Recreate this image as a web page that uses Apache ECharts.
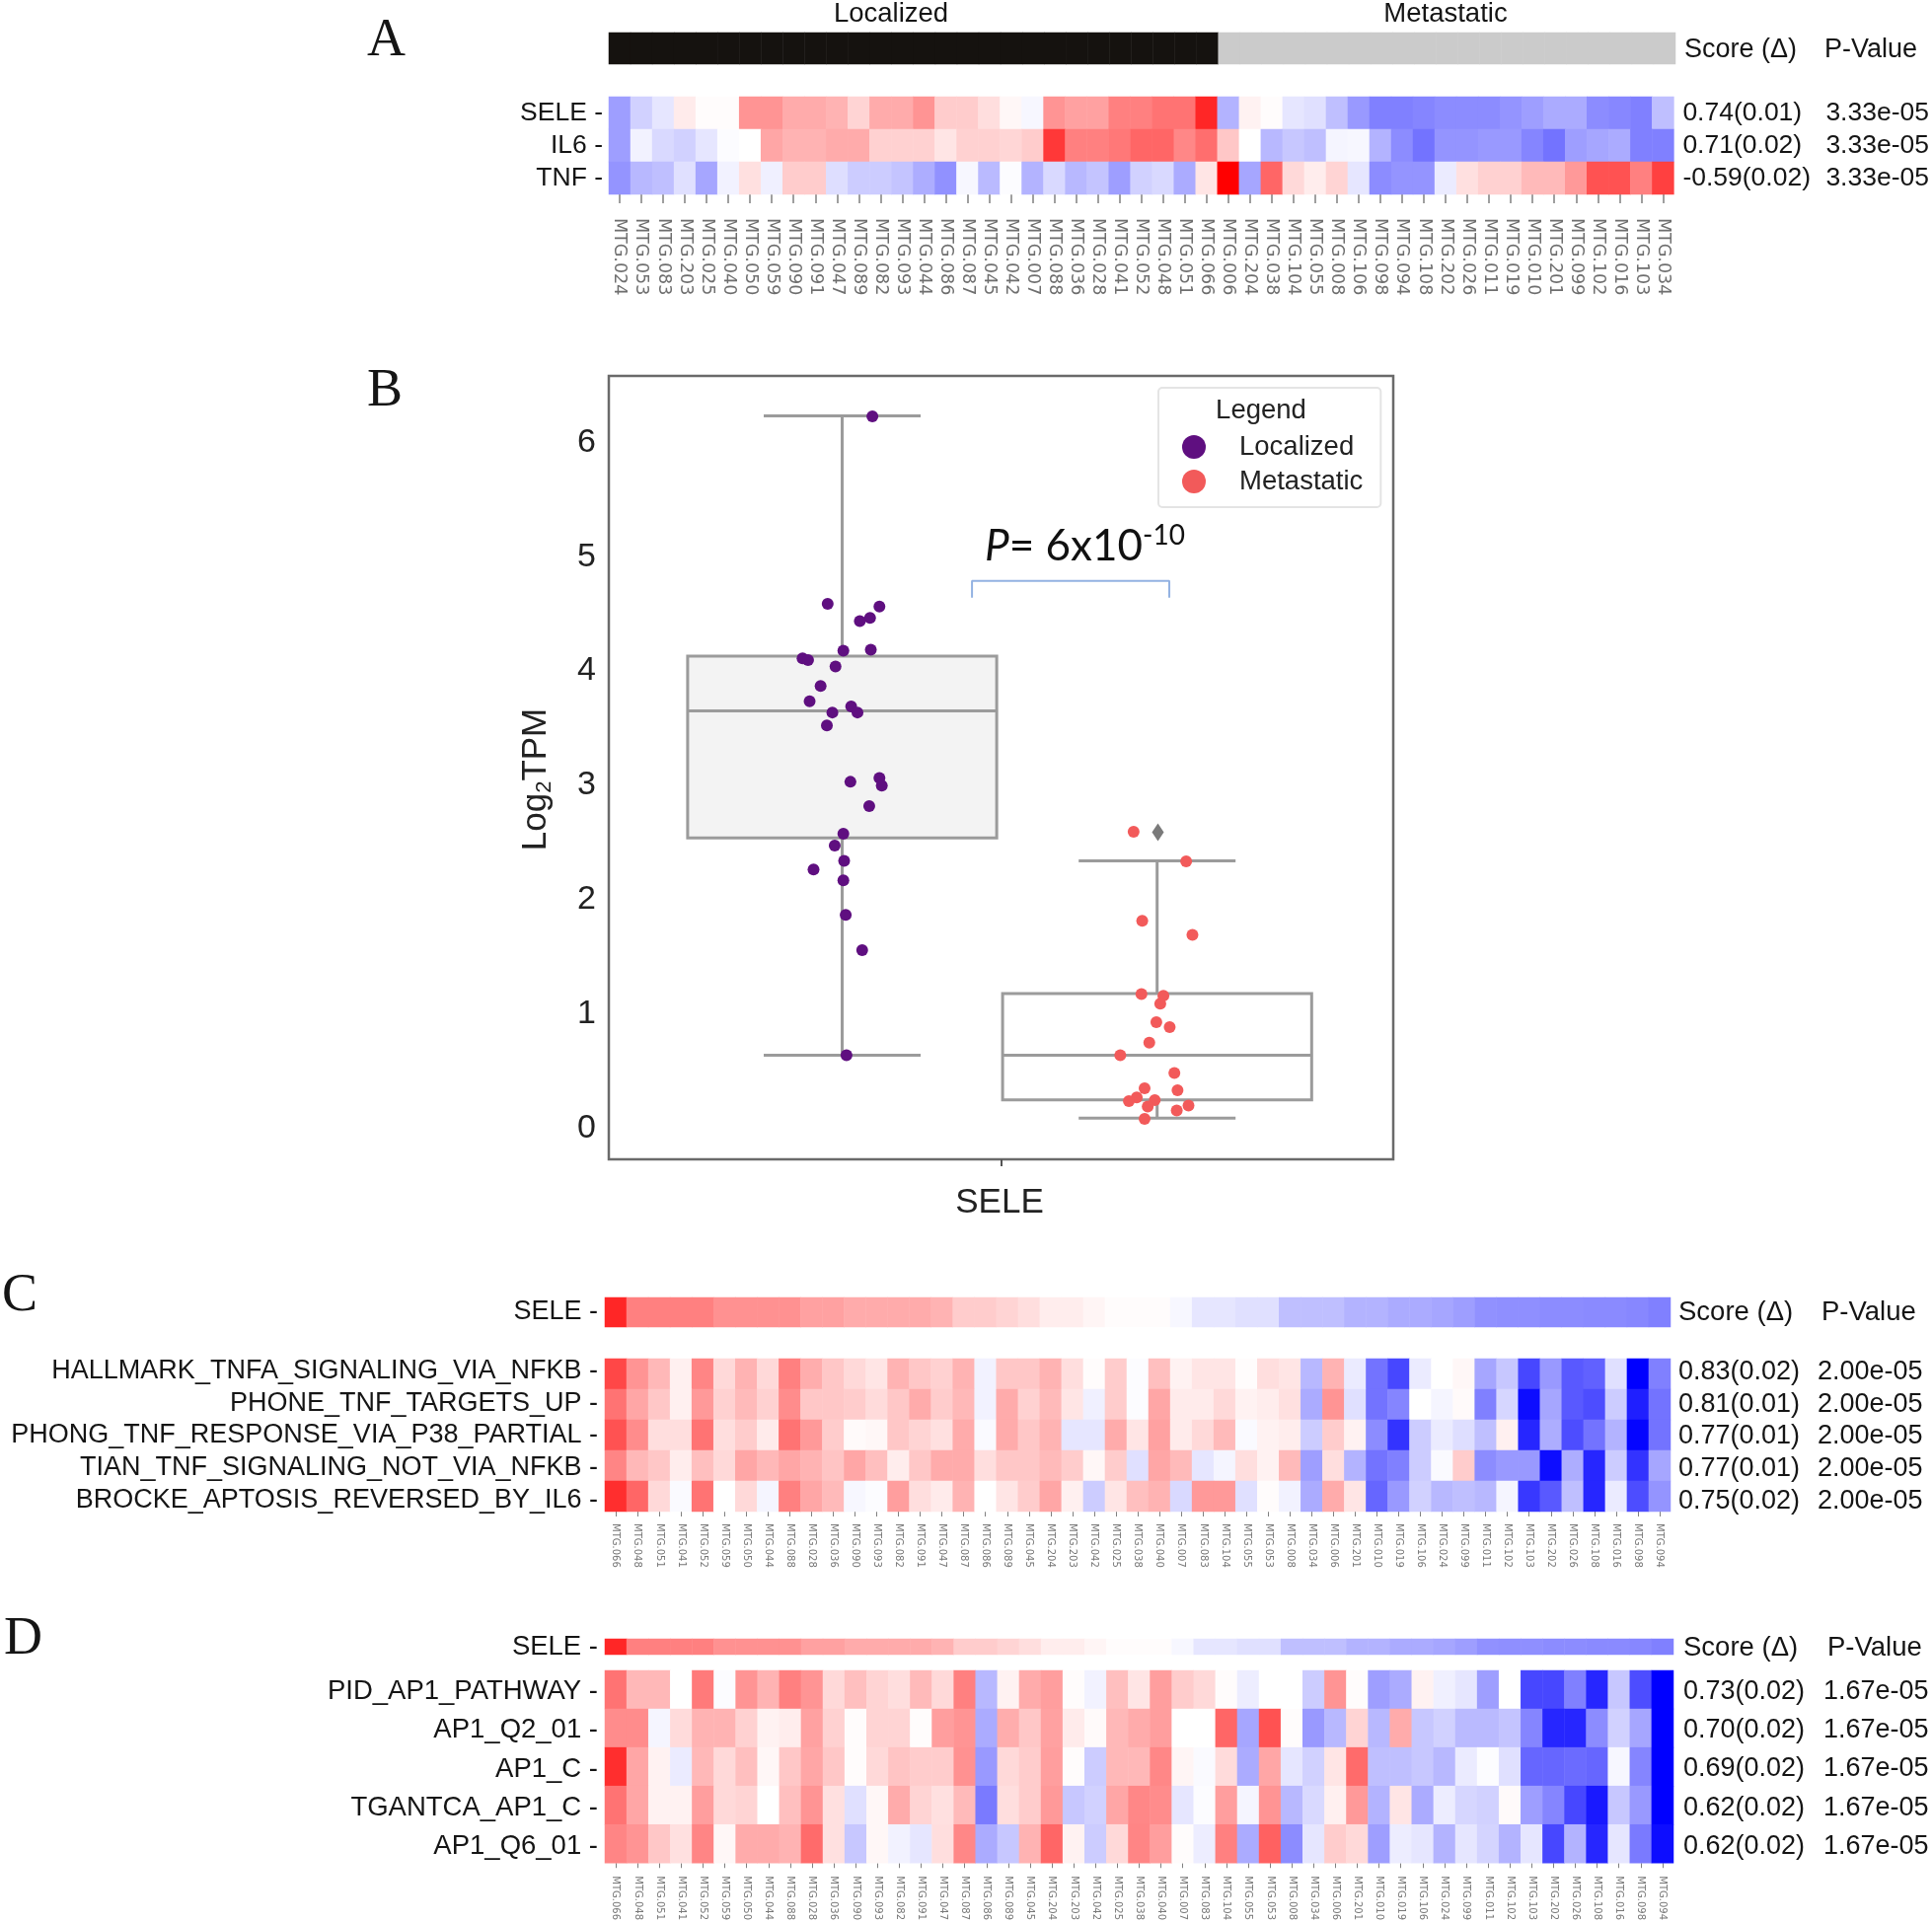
<!DOCTYPE html>
<html>
<head>
<meta charset="utf-8">
<title>SELE expression panels</title>
<script src="https://cdn.jsdelivr.net/npm/echarts@6/dist/echarts.min.js"></script>
<style>
  html, body { margin: 0; padding: 0; background: #fff; }
  #chart { width: 1958px; height: 1949px; }
</style>
</head>
<body>
<div id="chart"></div>
<script>
// panel A samples, localized first then metastatic
const samplesA = ['024','053','083','203','025','040','050','059','090','091','047','089','082','093','044','086','087','045','042','007','088','036','028','041','052','048','051','066','006','204','038','104','055','008','106','098','094','108','202','026','011','019','010','201','099','102','016','103','034'].map(s => 'MTG.' + s);
// panels C and D samples, sorted by SELE
const samplesCD = ['066','048','051','041','052','059','050','044','088','028','036','090','093','082','091','047','087','086','089','045','204','203','042','025','038','040','007','083','104','055','053','008','034','006','201','010','019','106','024','099','011','102','103','202','026','108','016','098','094'].map(s => 'MTG.' + s);

const statusA = [0,0,0,0,0,0,0,0,0,0,0,0,0,0,0,0,0,0,0,0,0,0,0,0,0,0,0,0,1,1,1,1,1,1,1,1,1,1,1,1,1,1,1,1,1,1,1,1,1];
const seleA = [-.38,-.18,-.1,.08,.01,.01,.42,.42,.33,.33,.3,.17,.33,.33,.42,.2,.2,.13,.03,-.03,.42,.37,.37,.5,.5,.55,.55,.85,-.3,.05,.01,-.1,-.12,-.25,-.4,-.5,-.5,-.48,-.45,-.45,-.45,-.42,-.38,-.33,-.33,-.45,-.47,-.5,-.25];
const il6A = [-.38,-.05,-.15,-.18,-.1,-.01,0,.35,.3,.3,.33,.33,.18,.18,.18,.1,.18,.18,.16,.2,.78,.5,.5,.53,.6,.6,.47,.57,.22,0,-.28,-.22,-.25,-.04,-.03,-.3,-.45,-.55,-.42,-.42,-.4,-.4,-.48,-.55,-.38,-.35,-.33,-.5,-.5];
const tnfA = [-.42,-.28,-.25,-.12,-.35,-.05,.12,-.06,.2,.2,-.13,-.2,-.2,-.23,-.32,-.43,-.03,-.27,-.01,-.3,-.15,-.28,-.23,-.38,-.18,-.15,-.33,.1,1,-.35,.6,.15,.07,.17,-.1,-.45,-.42,-.42,-.08,.12,.18,.18,.27,.27,.4,.68,.68,.5,.75];

const seleSorted = [.85,.5,.5,.5,.5,.43,.43,.43,.43,.37,.37,.33,.33,.33,.33,.3,.2,.2,.17,.13,.07,.07,.04,.01,.01,.01,-.03,-.1,-.1,-.12,-.12,-.25,-.25,-.25,-.3,-.3,-.33,-.33,-.35,-.38,-.43,-.44,-.44,-.45,-.45,-.46,-.46,-.47,-.5];

const hallmark = [.72,.42,.28,.06,.48,.15,.3,.15,.5,.32,.22,.15,.1,.3,.22,.18,.3,-.05,.22,.22,.3,.13,.01,.2,-.01,.25,.05,.1,.1,.01,.13,.1,-.28,.3,-.08,-.55,-.72,-.08,0,.03,-.35,-.22,-.72,-.4,-.65,-.62,-.12,-1,-.5];
const phoneTnf = [.55,.35,.22,.06,.4,.18,.27,.18,.45,.22,.22,.2,.14,.22,.33,.2,.28,-.05,.33,.18,.27,.1,-.06,.2,-.01,.35,.08,.08,.15,.05,.07,.12,-.33,.42,-.12,-.55,-.48,0,-.04,.02,-.5,-.16,-.95,-.35,-.65,-.7,-.2,-.88,-.55];
const phongTnf = [.68,.45,.13,.13,.55,.13,.2,.08,.55,.4,.2,.02,.03,.22,.17,.12,.33,-.02,.33,.22,.3,-.1,-.1,.33,.1,.37,.08,.15,.27,-.02,.05,.07,-.2,.2,.05,-.45,-.8,-.2,-.08,-.13,-.25,.06,-.85,-.32,-.7,-.55,-.3,-.98,-.55];
const tianTnf = [.48,.28,.22,.07,.25,.15,.35,.28,.35,.3,.23,.35,.25,.07,.22,.33,.33,.13,.22,.22,.27,.2,.03,.2,-.12,.35,.27,-.1,-.04,.13,.05,.27,-.38,.13,-.3,-.55,-.5,-.2,-.02,.2,-.45,-.4,-.4,-.95,-.32,-.85,-.2,-.8,-.35];
const brockeApt = [.82,.6,.15,-.02,.55,0,.15,-.04,.5,.35,.27,-.03,-.01,.38,.13,.08,.3,0,.1,.2,.35,.06,-.2,.1,.25,.3,-.15,.4,.4,-.12,.01,-.05,-.33,.33,.1,-.6,-.4,-.18,-.28,-.25,-.28,-.04,-.78,-.65,-.25,-.85,-.08,-.7,-.42];

const pidAp1 = [.55,.28,.28,0,.52,-.01,.42,.3,.5,.42,.15,.25,.17,.13,.27,.15,.5,-.28,.05,.33,.38,.01,-.05,.25,.1,.38,.2,.15,.01,-.07,0,0,-.2,.42,.01,-.38,-.33,.05,-.06,-.1,-.38,0,-.72,-.72,-.5,-.85,-.22,-.7,-1];
const ap1Q2 = [.45,.45,-.04,.14,.3,.3,.18,.05,.07,.37,.18,.01,.17,.17,.01,.38,.42,-.33,.32,.22,.37,.08,.02,.28,.33,.38,0,0,.6,-.35,.68,.01,-.4,-.28,.17,-.28,.33,-.22,-.18,-.27,-.27,-.23,-.48,-.85,-.85,-.45,-.18,-.35,-1];
const ap1C = [.82,.35,.05,-.08,.28,.15,.25,.03,.22,.35,.22,.01,.15,.23,.2,.2,.43,-.4,.15,.2,.38,.01,-.2,.28,.28,.47,.04,-.02,.14,-.33,.35,-.1,-.18,.1,.58,-.25,-.25,-.22,-.28,-.08,-.01,-.12,-.6,-.6,-.58,-.6,-.03,-.48,-1];
const tgantca = [.55,.35,.05,.05,.38,.15,.17,0,.25,.42,.12,-.12,.03,.33,.17,.12,.27,-.52,.13,.2,.4,-.22,-.18,.35,.47,.45,-.1,-.01,.38,-.04,.42,-.28,-.15,.06,.4,-.3,.1,-.33,-.07,-.16,-.18,.02,-.38,-.48,-.72,-.9,-.22,-.4,-1];
const ap1Q6 = [.48,.42,.22,.12,.48,.03,.33,.33,.3,.58,.12,-.22,.03,-.05,-.1,.13,.47,-.33,-.22,.3,.6,.05,-.2,.15,.48,.38,.01,-.07,.5,-.33,.62,-.45,-.1,.2,.15,-.38,-.07,-.1,-.3,-.1,-.17,-.3,-.1,-.72,-.3,-.85,-.1,-.52,-.95];

const rowsA = ['SELE','IL6','TNF'];
const rowsC = ['HALLMARK_TNFA_SIGNALING_VIA_NFKB','PHONE_TNF_TARGETS_UP','PHONG_TNF_RESPONSE_VIA_P38_PARTIAL','TIAN_TNF_SIGNALING_NOT_VIA_NFKB','BROCKE_APTOSIS_REVERSED_BY_IL6'];
const rowsD = ['PID_AP1_PATHWAY','AP1_Q2_01','AP1_C','TGANTCA_AP1_C','AP1_Q6_01'];

const scoresA = ['0.74(0.01)','0.71(0.02)','-0.59(0.02)'];
const pvalsA = ['3.33e-05','3.33e-05','3.33e-05'];
const scoresC = ['0.83(0.02)','0.81(0.01)','0.77(0.01)','0.77(0.01)','0.75(0.02)'];
const pvalsC = ['2.00e-05','2.00e-05','2.00e-05','2.00e-05','2.00e-05'];
const scoresD = ['0.73(0.02)','0.70(0.02)','0.69(0.02)','0.62(0.02)','0.62(0.02)'];
const pvalsD = ['1.67e-05','1.67e-05','1.67e-05','1.67e-05','1.67e-05'];

// panel B: [x, low whisker, q1, median, q3, high whisker]
const boxLocalized = [-.2025,.64,2.54,3.65,4.13,6.23];
const boxMetastatic = [.199,.09,.25,.64,1.18,2.34];
const outlierMetastatic = [[.2,2.59]];
const pointsLocalized = [[-.164,6.226],[-.221,4.588],[-.155,4.564],[-.167,4.465],[-.18,4.437],[-.201,4.177],[-.166,4.186],[-.253,4.11],[-.246,4.096],[-.211,4.04],[-.23,3.869],[-.244,3.736],[-.215,3.637],[-.191,3.689],[-.183,3.637],[-.222,3.524],[-.155,3.065],[-.152,2.998],[-.192,3.031],[-.168,2.818],[-.201,2.577],[-.212,2.473],[-.2,2.34],[-.239,2.265],[-.201,2.17],[-.198,1.867],[-.177,1.559],[-.197,.641]];
const pointsMetastatic = [[.169,2.595],[.236,2.336],[.18,1.815],[.244,1.692],[.179,1.176],[.207,1.161],[.203,1.091],[.198,.93],[.215,.887],[.189,.75],[.152,.641],[.221,.485],[.183,.352],[.225,.333],[.173,.272],[.163,.239],[.196,.248],[.187,.192],[.239,.201],[.224,.158],[.183,.083]];
const bracketLine = [[-.037,4.64],[-.037,4.787],[.2145,4.787],[.2145,4.64]];
const yTicksB = [0,1,2,3,4,5,6];

const SANS = '"Liberation Sans", Arial, sans-serif';
const grids = [], xAxes = [], yAxes = [], series = [];
const heatSeries = [], statusSeries = [];

function scoreAxisLabel(cfg) {
  const drop = cfg.headerDrop || 0;
  return {
    show: true, interval: 0, margin: cfg.rightMargin, align: 'left',
    formatter: v => { const p = v.split('|'); return '{s|' + p[0] + '}{p|' + p[1] + '}'; },
    rich: {
      s: { width: cfg.scoreWidth, align: 'left', fontSize: cfg.rightFont, fontFamily: SANS, color: '#151515', padding: [drop, 0, 0, 0] },
      p: { align: 'left', fontSize: cfg.rightFont, fontFamily: SANS, color: '#151515', padding: [drop, 0, 0, 0] }
    }
  };
}

// one heatmap block: hidden data axis for the cells, row labels left, score columns right.
// labelBand gives the label axes their own grid, in panel C they are spaced wider than the rows
function addHeatmap(cfg) {
  const g = grids.length;
  grids.push({ left: cfg.left, top: cfg.top, width: cfg.width, height: cfg.height });
  xAxes.push({
    type: 'category', gridIndex: g, data: cfg.samples, position: 'bottom',
    axisLine: { show: false },
    axisTick: cfg.sampleFont ? { show: true, alignWithLabel: true, length: cfg.tickLen, lineStyle: { color: '#808080', width: cfg.tickWidth } } : { show: false },
    axisLabel: cfg.sampleFont ? { show: true, interval: 0, rotate: -90, margin: cfg.labelMargin, padding: [cfg.labelShift, 0, 0, 0], fontSize: cfg.sampleFont, fontFamily: '"DejaVu Sans"', color: cfg.sampleColor } : { show: false },
    splitLine: { show: false }
  });
  const yData = yAxes.length;
  yAxes.push({ type: 'category', gridIndex: g, data: cfg.rows, inverse: true, show: false });

  let gLabel = g;
  if (cfg.labelBand) {
    gLabel = grids.length;
    grids.push({ left: cfg.left, top: cfg.labelBand[0], width: cfg.width, height: cfg.labelBand[1] });
    xAxes.push({ type: 'category', gridIndex: gLabel, data: cfg.samples, show: false });
  }
  yAxes.push({
    type: 'category', gridIndex: gLabel, data: cfg.rows, inverse: true, position: 'left',
    axisLine: { show: false }, axisTick: { show: false }, splitLine: { show: false },
    axisLabel: { show: cfg.rows[0] !== '', interval: 0, margin: cfg.rowMargin, fontSize: cfg.rowFont, fontFamily: SANS, color: '#151515', formatter: v => v + ' -' }
  });
  yAxes.push({
    type: 'category', gridIndex: gLabel, data: cfg.right, inverse: true, position: 'right',
    axisLine: { show: false }, axisTick: { show: false }, splitLine: { show: false },
    axisLabel: scoreAxisLabel(cfg)
  });

  const data = [];
  cfg.values.forEach((row, j) => row.forEach((v, i) => data.push([i, j, v])));
  (cfg.isStatus ? statusSeries : heatSeries).push(series.length);
  series.push({
    type: 'heatmap', xAxisIndex: g, yAxisIndex: yData, data: data, silent: true,
    itemStyle: { borderWidth: 0 }, emphasis: { disabled: true }, progressive: 0
  });
}

const zip = (a, b) => a.map((s, i) => s + '|' + b[i]);
const headerRow = ['Score (\u0394)|P-Value'];

// panel A
addHeatmap({ left: 617, top: 33, width: 1081, height: 32, samples: samplesA, rows: [''], values: [statusA], isStatus: true, rowFont: 26.5, rowMargin: 6, right: headerRow, rightFont: 27, headerDrop: 3, scoreWidth: 142, rightMargin: 9 });
addHeatmap({ left: 617, top: 98, width: 1081, height: 99, samples: samplesA, rows: rowsA, values: [seleA, il6A, tnfA], rowFont: 26.5, rowMargin: 6, right: zip(scoresA, pvalsA), rightFont: 26.5, scoreWidth: 145, rightMargin: 9, sampleFont: 17.5, sampleColor: '#6e6e6e', tickLen: 9, tickWidth: 1.5, labelMargin: 24, labelShift: 7 });

// panel C
addHeatmap({ left: 613, top: 1315, width: 1080, height: 30, samples: samplesCD, rows: ['SELE'], values: [seleSorted], rowFont: 27, rowMargin: 7, right: headerRow, rightFont: 27.5, scoreWidth: 145, rightMargin: 8 });
addHeatmap({ left: 613, top: 1377, width: 1080, height: 155, labelBand: [1373, 163.5], samples: samplesCD, rows: rowsC, values: [hallmark, phoneTnf, phongTnf, tianTnf, brockeApt], rowFont: 27, rowMargin: 7, right: zip(scoresC, pvalsC), rightFont: 27, headerDrop: 2, scoreWidth: 141, rightMargin: 8, sampleFont: 10, sampleColor: '#777', tickLen: 5, tickWidth: 1, labelMargin: 12, labelShift: 5 });

// panel D
addHeatmap({ left: 613, top: 1661, width: 1083, height: 16, samples: samplesCD, rows: ['SELE'], values: [seleSorted], rowFont: 27.5, rowMargin: 7, right: headerRow, rightFont: 27.5, headerDrop: 2, scoreWidth: 146, rightMargin: 10 });
addHeatmap({ left: 613, top: 1693, width: 1083, height: 196, labelBand: [1695, 196], samples: samplesCD, rows: rowsD, values: [pidAp1, ap1Q2, ap1C, tgantca, ap1Q6], rowFont: 27.5, rowMargin: 7, right: zip(scoresD, pvalsD), rightFont: 27, scoreWidth: 142, rightMargin: 10, sampleFont: 10, sampleColor: '#777', tickLen: 5, tickWidth: 1, labelMargin: 13, labelShift: 5 });

// panel B
const gB = grids.length, yB = yAxes.length;
grids.push({ left: 617, top: 381, width: 795, height: 794, show: true, borderColor: '#6a6a6a', borderWidth: 2.5, backgroundColor: '#fff' });
xAxes.push({
  type: 'value', gridIndex: gB, min: -.5, max: .5,
  axisLine: { show: false, onZero: false }, splitLine: { show: false },
  axisTick: { show: true, length: 7, customValues: [0], lineStyle: { color: '#555', width: 2 } },
  axisLabel: { show: true, customValues: [0], margin: 27, padding: [0, 3, 0, 0], fontSize: 35, fontFamily: SANS, color: '#222', formatter: () => 'SELE' }
});
yAxes.push({
  type: 'value', gridIndex: gB, min: -.27, max: 6.58,
  axisLine: { show: false }, splitLine: { show: false }, axisTick: { show: false },
  axisLabel: { show: true, customValues: yTicksB, margin: 13, padding: [3, 0, 0, 0], fontSize: 34, fontFamily: SANS, color: '#222' },
  name: '{a|Log}{b|2}{a|TPM}', nameLocation: 'middle', nameRotate: 90, nameGap: 54,
  nameTextStyle: {
    padding: [0, 24, 0, 0],
    rich: {
      a: { fontSize: 35, fontFamily: SANS, color: '#222', lineHeight: 40 },
      b: { fontSize: 22, fontFamily: SANS, color: '#222', verticalAlign: 'bottom', lineHeight: 40 }
    }
  }
});

const boxFills = ['#f3f3f3', '#ffffff'];
const BOX_LINE = '#9b9b9b';
series.push({
  type: 'custom', xAxisIndex: gB, yAxisIndex: yB, silent: true, z: 3,
  encode: { x: 0, y: [1, 2, 3, 4, 5] },
  data: [boxLocalized, boxMetastatic],
  renderItem: (params, api) => {
    const x = api.value(0);
    const halfBox = api.size([.394, 0])[0] / 2, halfCap = api.size([.2, 0])[0] / 2;
    const cx = api.coord([x, 0])[0];
    const y = i => api.coord([x, api.value(i)])[1];
    const line = (x1, y1, x2, y2) => ({
      type: 'line', shape: { x1, y1, x2, y2 }, style: { stroke: BOX_LINE, lineWidth: 3, fill: null }
    });
    return {
      type: 'group',
      children: [
        line(cx, y(1), cx, y(2)), line(cx, y(4), cx, y(5)),
        line(cx - halfCap, y(1), cx + halfCap, y(1)), line(cx - halfCap, y(5), cx + halfCap, y(5)),
        { type: 'rect', shape: { x: cx - halfBox, y: y(4), width: halfBox * 2, height: y(2) - y(4) },
          style: { fill: boxFills[params.dataIndex], stroke: BOX_LINE, lineWidth: 3 } },
        line(cx - halfBox, y(3), cx + halfBox, y(3))
      ]
    };
  }
});
series.push({ name: 'Localized', type: 'scatter', xAxisIndex: gB, yAxisIndex: yB, z: 5, symbolSize: 12, data: pointsLocalized, itemStyle: { color: '#5f0f80', opacity: 1 } });
series.push({ name: 'Metastatic', type: 'scatter', xAxisIndex: gB, yAxisIndex: yB, z: 5, symbolSize: 12, data: pointsMetastatic, itemStyle: { color: '#f25a5a', opacity: 1 } });
series.push({ type: 'scatter', xAxisIndex: gB, yAxisIndex: yB, z: 4, symbol: 'diamond', symbolSize: [12, 18], data: outlierMetastatic, itemStyle: { color: '#7a7a7a', opacity: 1 } });
series.push({ type: 'line', xAxisIndex: gB, yAxisIndex: yB, z: 4, data: bracketLine, showSymbol: false, silent: true, lineStyle: { color: '#93b2e2', width: 2 } });

const plainText = (text, x, y, font, align, fill) => ({
  type: 'text', x: x, y: y, z: 20, silent: true,
  style: { text: text, font: font, fill: fill || '#151515', textAlign: align || 'left', textVerticalAlign: 'middle' }
});
const LETTER = '54px "Liberation Serif", serif';

const option = {
  animation: false,
  backgroundColor: '#fff',
  grid: grids, xAxis: xAxes, yAxis: yAxes, series: series,
  visualMap: [
    { type: 'continuous', show: false, min: -1, max: 1, dimension: 2, seriesIndex: heatSeries, inRange: { color: ['#0000ff', '#ffffff', '#ff0000'] } },
    { type: 'piecewise', show: false, dimension: 2, seriesIndex: statusSeries, pieces: [{ value: 0, color: '#15120f' }, { value: 1, color: '#cbcbcb' }] }
  ],
  legend: {
    data: ['Localized', 'Metastatic'], orient: 'vertical', left: 1174, top: 393, icon: 'circle',
    itemWidth: 24, itemHeight: 24, itemGap: 7,
    padding: [46, 18, 12, 24], backgroundColor: '#fff', borderColor: '#e4e4e4', borderWidth: 2, borderRadius: 4,
    selectedMode: false,
    textStyle: { fontSize: 27.5, fontFamily: SANS, color: '#222', padding: [0, 0, 0, 29] }
  },
  graphic: [
    plainText('A', 372, 42, LETTER),
    plainText('B', 372, 397, LETTER),
    plainText('C', 2, 1314, LETTER),
    plainText('D', 4, 1662, LETTER),
    plainText('Localized', 903, 14, '27.5px ' + SANS, 'center'),
    plainText('Metastatic', 1465, 14, '27.5px ' + SANS, 'center'),
    plainText('Legend', 1278, 416, '27.5px ' + SANS, 'center', '#222'),
    {
      type: 'text', x: 998, y: 554, z: 20, silent: true,
      style: {
        text: '{i|P}{n|= 6x10}{u|-10}', textVerticalAlign: 'middle',
        rich: {
          i: { font: 'italic 44px Lato', fill: '#111', lineHeight: 50 },
          n: { font: '44px Lato', fill: '#111', lineHeight: 50 },
          u: { font: '28px Lato', fill: '#111', verticalAlign: 'top', lineHeight: 50 }
        }
      }
    }
  ]
};

const chart = echarts.init(document.getElementById('chart'));
chart.setOption(option);
window.addEventListener('resize', () => chart.resize());
</script>
</body>
</html>
